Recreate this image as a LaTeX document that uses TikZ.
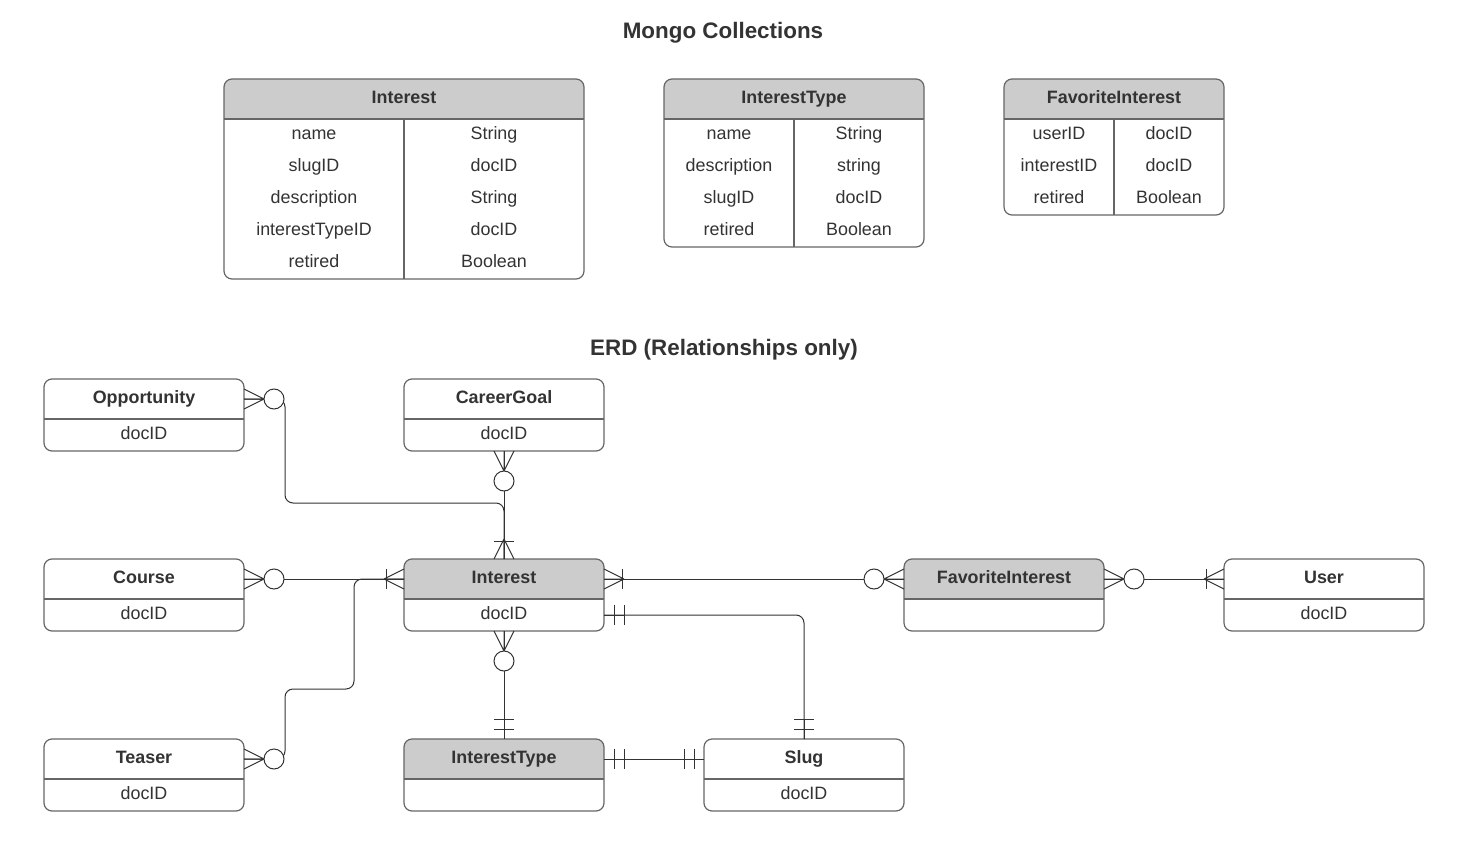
\documentclass[tikz,border=0pt]{standalone}
\usepackage{fontspec}
\setmainfont{Liberation Sans}
\usetikzlibrary{calc}
\definecolor{txt}{HTML}{333333}
\definecolor{hdr}{HTML}{CCCCCC}
\definecolor{brd}{HTML}{666666}
\definecolor{ln}{HTML}{333333}
\tikzset{
  ebox/.style={draw=brd, line width=1.2pt, rounded corners=8pt, minimum width=200pt, minimum height=72pt, inner sep=0pt},
  tbox/.style={draw=brd, line width=1.2pt, rounded corners=8pt, inner sep=0pt},
  lbl/.style={text=txt, font=\fontsize{17.9}{20}\selectfont, inner sep=0pt, text height=12.5pt, text depth=3.5pt},
  blbl/.style={lbl, font=\fontsize{17.9}{20}\selectfont\bfseries},
  ttl/.style={text=txt, font=\fontsize{22.4}{25}\selectfont\bfseries, inner sep=0pt, text height=15.5pt, text depth=4.5pt},
  conn/.style={draw=ln, line width=1pt},
  divl/.style={draw=brd, line width=1.2pt},
}
% entity: name, x, y, title, body, header colour
\newcommand{\entity}[6]{%
  \begin{scope}
    \clip (#2,#3) rectangle (#2+200,#3+40);
    \fill[#6, rounded corners=8pt] (#2,#3) rectangle (#2+200,#3+72);
  \end{scope}
  \draw[divl] (#2,#3+40) -- (#2+200,#3+40);
  \node[ebox] (#1) at (#2+100,#3+36) {};
  \node[blbl] (#1-title) at (#2+100,#3+20) {#4};
  \node[lbl] (#1-body) at (#2+100,#3+56) {#5};
  \coordinate (#1-hw) at (#2,#3+20);
  \coordinate (#1-he) at (#2+200,#3+20);
  \coordinate (#1-be) at (#2+200,#3+56);
  \coordinate (#1-n) at (#2+100,#3);
  \coordinate (#1-s) at (#2+100,#3+72);
}
% table: name, x, y, width, nrows, title, rows
\newcommand{\mtable}[7]{%
  \begin{scope}
    \clip (#2,#3) rectangle (#2+#4,#3+40);
    \fill[hdr, rounded corners=8pt] (#2,#3) rectangle (#2+#4,#3+80);
  \end{scope}
  \draw[divl] (#2,#3+40) -- (#2+#4,#3+40);
  \draw[divl] (#2+#4/2,#3+40) -- (#2+#4/2,#3+40+32*#5);
  \node[tbox, minimum width=#4pt, minimum height={40pt+32pt*#5}] (#1) at (#2+#4/2,#3+20+16*#5) {};
  \node[blbl] (#1-title) at (#2+#4/2,#3+20) {#6};
  \foreach \a/\b [count=\i] in {#7} {
    \node[lbl] (#1-k\i) at (#2+#4/4,#3+24+32*\i) {\a};
    \node[lbl] (#1-v\i) at (#2+3*#4/4,#3+24+32*\i) {\b};
  }
}
% end decorations: coordinate, angle (0 = outward to the right)
\newcommand{\crowft}{\draw[conn] (0,10) -- (20,0) (0,0) -- (20,0) (0,-10) -- (20,0);}
\newcommand{\zmany}[2]{\begin{scope}[shift={(#1)},rotate=#2]\crowft\draw[conn,fill=white] (30,0) circle[radius=10];\end{scope}}
\newcommand{\omany}[2]{\begin{scope}[shift={(#1)},rotate=#2]\crowft\draw[conn] (18,-10) -- (18,10);\end{scope}}
\newcommand{\oone}[2]{\begin{scope}[shift={(#1)},rotate=#2]\draw[conn] (0,0) -- (20,0) (10,-10) -- (10,10) (20,-10) -- (20,10);\end{scope}}

\begin{document}
\begin{tikzpicture}[x=1pt,y=-1pt]
\useasboundingbox (0,0) rectangle (1459,856);

\node[ttl] (t1) at (723,33) {Mongo Collections};
\node[ttl] (t2) at (724,350) {ERD (Relationships only)};

\mtable{tint}{224}{79}{360}{5}{Interest}{name/String, slugID/docID, description/String, interestTypeID/docID, retired/Boolean}
\mtable{tit}{664}{79}{260}{4}{InterestType}{name/String, description/string, slugID/docID, retired/Boolean}
\mtable{tfav}{1004}{79}{220}{3}{FavoriteInterest}{userID/docID, interestID/docID, retired/Boolean}

\entity{opp}{44}{379}{Opportunity}{docID}{white}
\entity{cg}{404}{379}{CareerGoal}{docID}{white}
\entity{course}{44}{559}{Course}{docID}{white}
\entity{int}{404}{559}{Interest}{docID}{hdr}
\entity{fav}{904}{559}{FavoriteInterest}{}{hdr}
\entity{user}{1224}{559}{User}{docID}{white}
\entity{teaser}{44}{739}{Teaser}{docID}{white}
\entity{it}{404}{739}{InterestType}{}{hdr}
\entity{slug}{704}{739}{Slug}{docID}{white}

% connectors
\draw[conn, rounded corners=8pt] (opp-he) -- ++(41,0) |- ($(int-n)+(0,-56)$) -- (int-n);
\draw[conn] (cg-s) -- (int-n);
\draw[conn] (course-he) -- (int-hw);
\draw[conn, rounded corners=8pt] (teaser-he) -- ++(41,0) -- ++(0,-70) -| ($(int-hw)+(-50,0)$) -- (int-hw);
\draw[conn] (int-he) -- (fav-hw);
\draw[conn] (fav-he) -- (user-hw);
\draw[conn, rounded corners=8pt] (int-be) -| (slug-n);
\draw[conn] (int-s) -- (it-n);
\draw[conn] (it-he) -- (slug-hw);

% ends
\zmany{opp-he}{0}
\omany{int-n}{90}
\zmany{cg-s}{-90}
\zmany{course-he}{0}
\omany{int-hw}{180}
\zmany{teaser-he}{0}
\omany{int-he}{0}
\zmany{fav-hw}{180}
\zmany{fav-he}{0}
\omany{user-hw}{180}
\oone{int-be}{0}
\oone{slug-n}{90}
\zmany{int-s}{-90}
\oone{it-n}{90}
\oone{it-he}{0}
\oone{slug-hw}{180}
\end{tikzpicture}
\end{document}
